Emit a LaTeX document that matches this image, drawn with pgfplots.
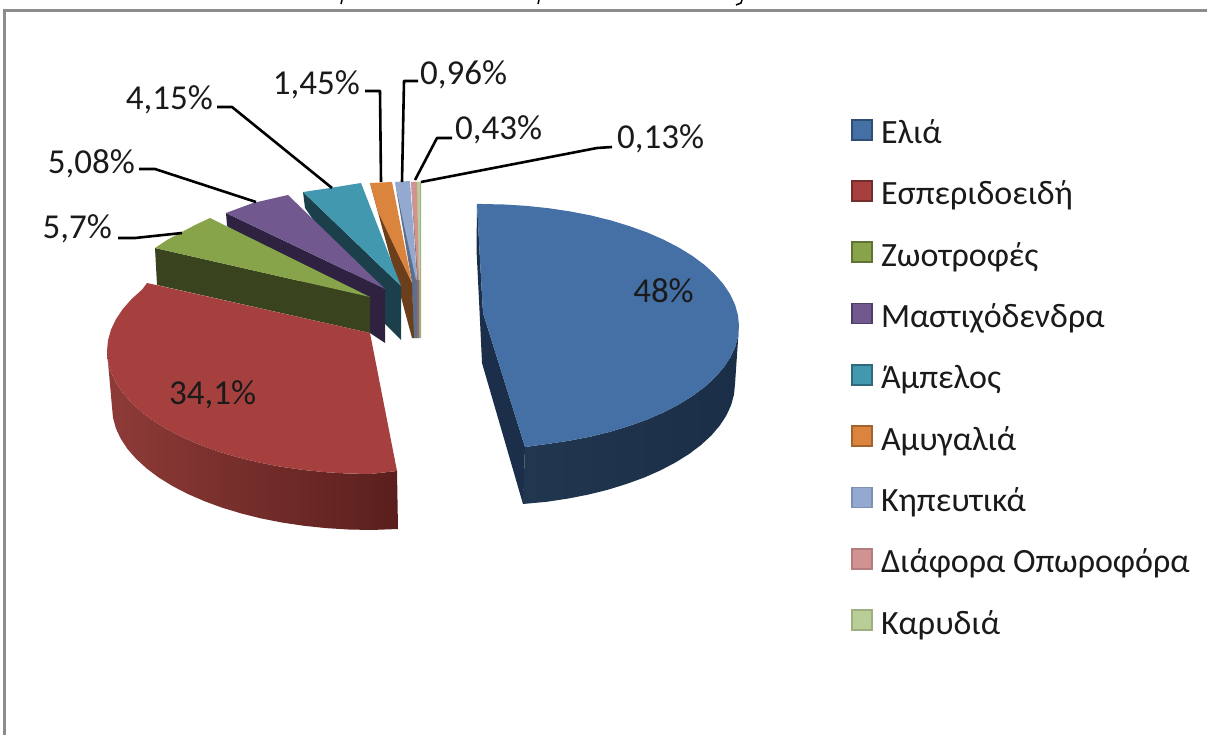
\documentclass[border=0pt]{standalone}
\usepackage{fontspec}
\setmainfont{Carlito}
\usepackage{pgfplots}
\pgfplotsset{compat=1.18}

\definecolor{cBlue}{HTML}{4470A5}
\definecolor{cBlueD}{HTML}{1B2F4A}
\definecolor{cBlueL}{HTML}{21364F}
\definecolor{cBlueR}{HTML}{1B2E48}
\definecolor{cRed}{HTML}{A5403E}
\definecolor{cRedL}{HTML}{8E3B38}
\definecolor{cRedR}{HTML}{5A1F1D}
\definecolor{cGreen}{HTML}{87A44A}
\definecolor{cGreenD}{HTML}{39431E}
\definecolor{cPurple}{HTML}{71588F}
\definecolor{cPurpleD}{HTML}{2E2240}
\definecolor{cTeal}{HTML}{4198AF}
\definecolor{cTealD}{HTML}{1B3F4B}
\definecolor{cOrange}{HTML}{DB843D}
\definecolor{cOrangeD}{HTML}{6B3F1B}
\definecolor{cSky}{HTML}{93A9CF}
\definecolor{cSkyD}{HTML}{5E6F8C}
\definecolor{cPink}{HTML}{D19392}
\definecolor{cPinkD}{HTML}{8F6E70}
\definecolor{cLime}{HTML}{B9CD96}
\definecolor{cLimeD}{HTML}{9DAE82}
\definecolor{cFrame}{HTML}{8C8C8C}
\definecolor{cText}{HTML}{1A1A1A}

\pgfplotsset{
  face/.style={draw=none, fill=#1, forget plot},
  leader/.style={black, line width=2.6pt, forget plot, line join=round},
  swatch/.style 2 args={
    legend image code/.code={\draw[fill=#1, draw=#2, line width=1.8pt] (1pt,-2pt) rectangle (21pt,18pt);},
  },
}

\begin{document}
\begin{tikzpicture}
\path[use as bounding box] (0,0) rectangle (1207pt,735pt);
\begin{axis}[
  scale only axis, width=1207pt, height=735pt,
  xmin=0, xmax=1207, ymin=0, ymax=735, y dir=reverse,
  hide axis,
  font=\fontsize{35}{35}\selectfont\color{cText},
  legend style={
    at={(axis cs:851,118.5)}, anchor=north west, draw=none, fill=none, inner sep=0pt,
    font=\fontsize{34}{34}\selectfont\color{cText},
    row sep=28.4pt, column sep=8pt,
    nodes={text height=20pt, text depth=8pt, inner sep=0pt},
  },
  legend cell align=left,
]
% frame and the cut off title above it
\addplot[cFrame, line width=3pt, forget plot] coordinates {(4,735) (4,11) (1207,11)};
\addplot[black, line width=1.5pt, forget plot] coordinates {(342,0) (341,4)};
\addplot[black, line width=1.5pt, forget plot] coordinates {(539,0) (538,4)};
\addplot[black, line width=1.5pt, forget plot] coordinates {(742,0) (741,3) (736,5)};

% thin slices, back to front
\addplot[face=cLimeD] coordinates {(417,182) (419,280) (418,338) (421,338) (421,182)} --cycle;
\addplot[face=cLime] coordinates {(417,182) (420,182) (420,280) (419,280)} --cycle;
\addplot[face=cPinkD] coordinates {(411,182) (417,280) (415,338) (419,338) (419,280)} --cycle;
\addplot[face=cPink] coordinates {(411,182) (417,182) (419,280) (418,280)} --cycle;
\addplot[face=cSkyD] coordinates {(395,182) (412,283) (413,338) (417,338) (417,280)} --cycle;
\addplot[face=cSky] coordinates {(395,182) (410,181) (417,280) (416,280) (404,225)} --cycle;
\addplot[face=cOrangeD] coordinates {(370,183) (401,297) (412,338) (414,338) (412,283)} --cycle;
\addplot[face=cOrange] coordinates {(370,183) (392,182) (412,283) (396,250) (378,212)} --cycle;

% teal
\addplot[face=cTealD] coordinates {(303,192) (305,208) (386,325) (401,340) (401,286)} --cycle;
\addplot[face=cTeal] coordinates {(303,192) (330,188) (361,183) (401,286)} --cycle;
% purple
\addplot[face=cPurpleD] coordinates {(226,213) (227,226) (370,333) (385,343) (385,289)} --cycle;
\addplot[face=cPurple] coordinates {(226,213) (253,203) (288,195) (385,289)} --cycle;
% green
\addplot[face=cGreenD] coordinates {(155,248) (157,285) (370,333) (370,297)} --cycle;
\addplot[face=cGreen] coordinates {(155,248) (167,240) (180,233) (195,225) (210,218) (370,297)} --cycle;

% red
\addplot[draw=none, left color=cRedL, right color=cRedR, forget plot] coordinates {
  (107,351) (108,361.7) (111,372.4) (116,382.8) (122.9,393.1) (131.6,403) (142.2,412.5) (154.6,421.6)
  (168.5,430.1) (184,438) (200.9,445.2) (219.1,451.8) (238.5,457.5) (258.9,462.5) (280,466.6)
  (301.9,469.8) (324.3,472.1) (347.1,473.5) (370,474) (397,471)
  (398,529) (371,530) (348.4,529.5) (326,528.1) (304,525.8) (282.4,522.6) (261.5,518.5) (241.5,513.5)
  (222.4,507.8) (204.5,501.2) (187.9,494) (172.6,486.1) (158.8,477.6) (146.7,468.5) (136.3,459)
  (127.6,449.1) (120.8,438.8) (115.9,428.4) (113,417.7) (112,407)} --cycle;
\addplot[face=cRed] coordinates {
  (147,283) (142.2,289.5) (131.6,299) (122.9,308.9) (116,319.2) (111,329.6) (108,340.3) (107,351)
  (108,361.7) (111,372.4) (116,382.8) (122.9,393.1) (131.6,403) (142.2,412.5) (154.6,421.6)
  (168.5,430.1) (184,438) (200.9,445.2) (219.1,451.8) (238.5,457.5) (258.9,462.5) (280,466.6)
  (301.9,469.8) (324.3,472.1) (347.1,473.5) (370,474) (397,471) (370,333)} --cycle;

% blue
\addplot[draw=none, left color=cBlueL, right color=cBlueR, forget plot] coordinates {
  (739,326) (738,336.6) (735.1,347.2) (730.2,357.6) (723.5,367.7) (714.9,377.6) (704.6,387) (692.5,396)
  (678.9,404.4) (663.7,412.3) (647.2,419.5) (629.4,425.9) (610.5,431.7) (590.6,436.6) (569.9,440.6)
  (548.5,443.8) (525,447)
  (523,504) (546.7,501.8) (567.9,498.6) (588.3,494.6) (608,489.7) (626.7,483.9) (644.3,477.5) (660.6,470.3)
  (675.6,462.4) (689.1,454) (701,445) (711.2,435.6) (719.7,425.7) (726.3,415.6) (731.1,405.2) (734,394.6)
  (735,384)} --cycle;
\addplot[face=cBlueD] coordinates {(477,204) (476.5,250) (479,300) (482,363) (523,504) (525,447) (483,313) (480,260)} --cycle;
\addplot[face=cBlue] coordinates {
  (477,204) (482,204) (504.4,204.5) (526.6,205.9) (548.5,208.2) (569.9,211.4) (590.6,215.4) (610.5,220.3)
  (629.4,226.1) (647.2,232.5) (663.7,239.7) (678.9,247.6) (692.5,256) (704.6,265) (714.9,274.4) (723.5,284.3)
  (730.2,294.4) (735.1,304.8) (738,315.4) (739,326) (738,336.6) (735.1,347.2) (730.2,357.6) (723.5,367.7)
  (714.9,377.6) (704.6,387) (692.5,396) (678.9,404.4) (663.7,412.3) (647.2,419.5) (629.4,425.9) (610.5,431.7)
  (590.6,436.6) (569.9,440.6) (548.5,443.8) (525,447) (483,313) (480,260)} --cycle;

% leader lines
\addplot[leader] coordinates {(118,238) (135,238) (182,233)};
\addplot[leader] coordinates {(139,169) (155,169) (256,202)};
\addplot[leader] coordinates {(217,107) (232,107) (332,188)};
\addplot[leader] coordinates {(365,91) (380,91) (381,182)};
\addplot[leader] coordinates {(418,81) (404,81) (402,182)};
\addplot[leader] coordinates {(452,138) (437,138) (415,180)};
\addplot[leader] coordinates {(612,147) (597,148) (421,182)};

% legend
\addlegendimage{swatch={cBlue}{cBlue!70!black}} \addlegendentry{Ελιά}
\addlegendimage{swatch={cRed}{cRed!70!black}} \addlegendentry{Εσπεριδοειδή}
\addlegendimage{swatch={cGreen}{cGreen!70!black}} \addlegendentry{Ζωοτροφές}
\addlegendimage{swatch={cPurple}{cPurple!70!black}} \addlegendentry{Μαστιχόδενδρα}
\addlegendimage{swatch={cTeal}{cTeal!70!black}} \addlegendentry{Άμπελος}
\addlegendimage{swatch={cOrange}{cOrange!75!black}} \addlegendentry{Αμυγαλιά}
\addlegendimage{swatch={cSky}{cSky!85!black}} \addlegendentry{Κηπευτικά}
\addlegendimage{swatch={cPink}{cPink!85!black}} \addlegendentry{Διάφορα Οπωροφόρα}
\addlegendimage{swatch={cLime}{cLime!85!black}} \addlegendentry{Καρυδιά}

% data labels
\node[anchor=east, inner sep=0pt] at (axis cs:112,229) {5,7\%};
\node[anchor=east, inner sep=0pt] at (axis cs:135,163.5) {5,08\%};
\node[anchor=east, inner sep=0pt] at (axis cs:213,100) {4,15\%};
\node[anchor=east, inner sep=0pt] at (axis cs:360,85) {1,45\%};
\node[anchor=west, inner sep=0pt] at (axis cs:420,75) {0,96\%};
\node[anchor=west, inner sep=0pt] at (axis cs:455,130) {0,43\%};
\node[anchor=west, inner sep=0pt] at (axis cs:617,139) {0,13\%};
\node[inner sep=0pt] at (axis cs:663.5,291) {48\%};
\node[inner sep=0pt] at (axis cs:212.5,395) {34,1\%};
\end{axis}
\end{tikzpicture}
\end{document}
